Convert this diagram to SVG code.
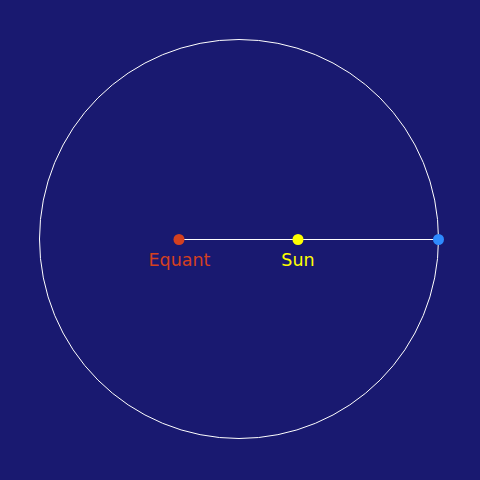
<svg xmlns="http://www.w3.org/2000/svg" width="480" height="480" viewBox="0 0 480 480">
<style>
.lbl{font-family:"DejaVu Sans",sans-serif;font-size:17.5px;text-anchor:middle}
</style>
<rect width="480" height="480" fill="#191970"/>
<g id="orbit"><circle cx="239" cy="239" r="199.5" fill="none" stroke="#ffffff" stroke-width="1"/></g>
<g id="connectors"><line x1="179" y1="239.5" x2="438" y2="239.5" stroke="#ffffff" stroke-width="1.2"/></g>
<g id="equant"><circle cx="179" cy="239.5" r="5.5" fill="#d4401f"/><text class="lbl" x="179.5" y="266" fill="#d4401f">Equant</text></g>
<g id="sun"><circle cx="298" cy="239.5" r="5.5" fill="#ffff00"/><text class="lbl" x="298" y="266" fill="#ffff00">Sun</text></g>
<g id="planet"><circle cx="438.5" cy="239.5" r="5.5" fill="#2e8bff"/></g>
</svg>
